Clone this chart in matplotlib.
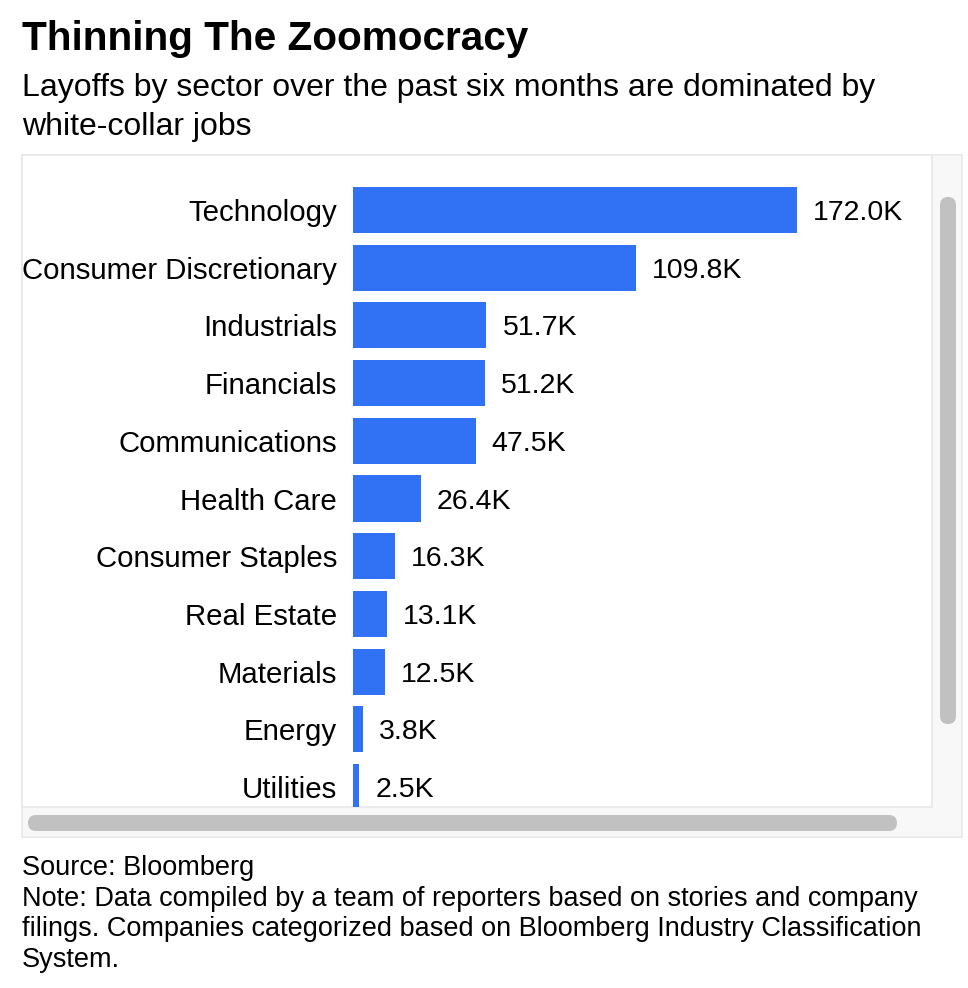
import matplotlib.pyplot as plt
from matplotlib.patches import FancyBboxPatch, Rectangle

plt.rcParams['font.family'] = ['Liberation Sans', 'DejaVu Sans']

sectors = ["Technology", "Consumer Discretionary", "Industrials", "Financials",
           "Communications", "Health Care", "Consumer Staples", "Real Estate",
           "Materials", "Energy", "Utilities"]
layoffs_k = [172.0, 109.8, 51.7, 51.2, 47.5, 26.4, 16.3, 13.1, 12.5, 3.8, 2.5]

title = "Thinning The Zoomocracy"
subtitle = ["Layoffs by sector over the past six months are dominated by",
            "white-collar jobs"]
footer = ["Source: Bloomberg",
          "Note: Data compiled by a team of reporters based on stories and company",
          "filings. Companies categorized based on Bloomberg Industry Classification",
          "System."]

W, H = 968, 988
BLUE = "#3171f4"


def fx(x):
    return x / W


def fy(y):
    return 1 - y / H


fig = plt.figure(figsize=(W / 100, H / 100), dpi=100)


def box(x0, y0, x1, y1, color, round_px=0, ec="none", lw=0, z=0):
    if round_px:
        p = FancyBboxPatch((fx(x0), fy(y1)), fx(x1 - x0), (y1 - y0) / H,
                           boxstyle=f"round,pad=0,rounding_size={round_px / W}",
                           transform=fig.transFigure, fc=color, ec=ec, lw=lw, zorder=z)
    else:
        p = Rectangle((fx(x0), fy(y1)), fx(x1 - x0), (y1 - y0) / H,
                      transform=fig.transFigure, fc=color, ec=ec, lw=lw, zorder=z)
    fig.patches.append(p)


# scroll frame around the chart (screenshot of a scrollable container)
box(22, 155, 962, 837, "#f8f8f8", ec="#e8e8e8", lw=1.2)
box(22, 155, 932, 807, "white", ec="#e8e8e8", lw=1.2, z=1)
box(28, 815, 897, 831, "#c1c1c1", round_px=8, z=2)
box(940, 197, 956, 724, "#c1c1c1", round_px=8, z=2)

# plot area = visible part of the scroll box
ax = fig.add_axes([fx(353), fy(807), fx(932 - 353), (807 - 155) / H])
ax.set_zorder(3)
ax.patch.set_alpha(0)

y = list(range(len(sectors)))
ax.barh(y, layoffs_k, height=0.8, color=BLUE)
for i, v in enumerate(layoffs_k):
    ax.annotate(f"{v:.1f}K", (v, i), xytext=(11.5, 0), textcoords="offset points",
                va="center_baseline", ha="left", fontsize=20.5, color="black",
                annotation_clip=False)

ax.set_xlim(0, (932 - 353) / 2.581)
ax.set_ylim((807 - 210) / 57.7, -(210 - 155) / 57.7)
ax.set_yticks(y)
ax.set_yticklabels(sectors, fontsize=21.2)
ax.tick_params(axis="y", length=0, pad=11.5)
ax.set_xticks([])
for s in ax.spines.values():
    s.set_visible(False)

fig.text(fx(22), fy(50), title, fontsize=29.2, fontweight="bold", va="baseline")
fig.text(fx(22), fy(96), subtitle[0], fontsize=23, va="baseline")
fig.text(fx(22), fy(135), subtitle[1], fontsize=23, va="baseline")
for k, line in enumerate(footer):
    fig.text(fx(22), fy(875 + k * 30.7), line, fontsize=19.55, va="baseline")

fig.savefig("out.png", dpi=100)
